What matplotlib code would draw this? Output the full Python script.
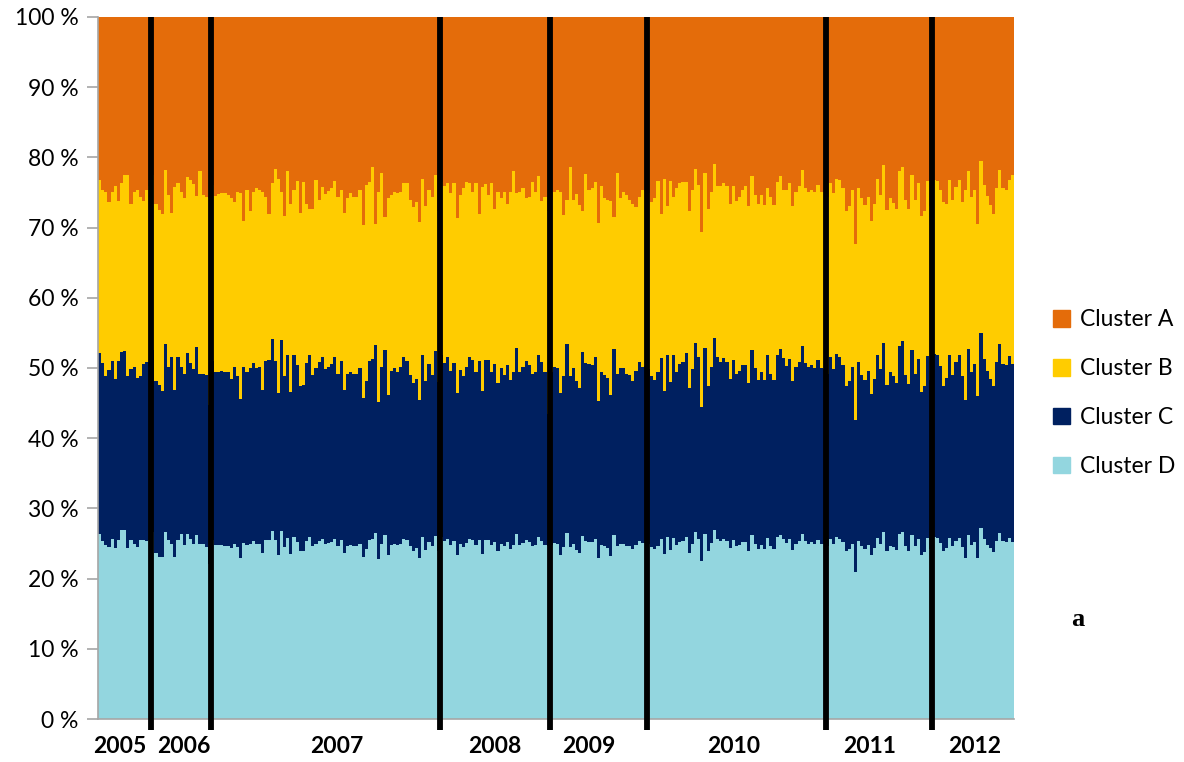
import numpy as np
import matplotlib
matplotlib.use("Agg")
import matplotlib.pyplot as plt
import matplotlib.patches as mpatches

plt.rcParams['font.family'] = ['Lato', 'DejaVu Sans']

years = ['2005', '2006', '2007', '2008', '2009', '2010', '2011', '2012']
bars_per_year = [17, 19, 73, 35, 31, 57, 34, 26]

# upper edge (cumulative %) of Cluster D, C and B for each bar
top_d = [
    26.4, 25.3, 24.8, 24.5, 25.7, 24.3, 25.5, 26.9, 26.9, 24.3, 25.5, 25.0, 24.5, 25.5, 25.5, 25.3, 25.5,
    26.7, 23.6, 23.1, 23.1, 26.7, 25.5, 25.0, 23.1, 25.5, 26.4, 24.8, 26.4, 25.7, 25.0, 26.2, 25.0, 25.0, 24.5, 22.1,
    25.5, 24.8, 24.8, 24.8, 24.7, 24.7, 24.3, 25.0, 24.5, 23.0, 25.1, 24.8, 25.0, 25.3, 25.0, 25.0, 23.6, 25.5,
    25.5, 26.8, 25.5, 23.4, 26.8, 24.5, 25.8, 23.5, 25.9, 25.2, 23.9, 23.9, 25.3, 25.9, 24.6, 25.0, 25.4, 25.7,
    24.9, 25.1, 25.2, 25.7, 24.6, 25.5, 23.6, 24.6, 24.8, 24.6, 24.6, 25.0, 23.1, 24.2, 25.5, 25.6, 26.5, 22.8,
    25.0, 26.2, 23.3, 24.8, 25.0, 24.8, 25.0, 25.7, 25.5, 24.6, 24.0, 24.3, 23.0, 25.9, 24.1, 25.2, 24.6, 26.1, 23.9,
    25.9, 25.3, 25.7, 24.8, 25.3, 23.4, 24.9, 24.5, 25.1, 25.7, 25.5, 24.8, 25.5, 23.5, 25.5, 25.5, 24.8, 25.2,
    24.0, 25.0, 24.6, 25.2, 24.2, 24.8, 26.3, 24.8, 25.1, 25.5, 25.2, 24.6, 24.8, 25.9, 25.4, 24.8, 24.6,
    24.8, 25.1, 25.0, 23.4, 24.5, 26.5, 24.5, 25.0, 24.1, 23.7, 26.0, 25.3, 25.2, 25.2, 25.7, 22.9, 24.8, 24.6,
    24.4, 23.2, 26.2, 24.6, 25.0, 25.0, 24.6, 24.6, 24.2, 24.8, 25.4, 25.1, 25.1,
    25.0, 24.5, 24.2, 24.7, 25.6, 23.5, 25.9, 24.1, 25.8, 24.8, 25.2, 25.4, 25.9, 23.7, 25.0, 26.6, 25.7, 22.5,
    26.3, 23.9, 25.1, 26.9, 25.7, 25.4, 25.6, 25.4, 24.3, 25.5, 24.6, 24.8, 25.2, 25.2, 24.0, 26.2, 25.0, 24.2,
    24.8, 24.2, 25.8, 24.6, 24.2, 25.9, 26.2, 25.6, 25.1, 25.6, 24.1, 25.0, 25.4, 26.4, 25.3, 25.0, 25.2, 25.0,
    25.5, 25.0, 24.9,
    24.6, 25.7, 25.0, 25.9, 25.7, 25.2, 23.9, 24.2, 25.0, 21.0, 25.4, 24.6, 24.2, 24.8, 23.3, 24.3, 25.8, 25.0,
    26.6, 23.9, 24.7, 24.5, 24.1, 26.4, 26.7, 24.6, 23.9, 26.2, 24.6, 25.6, 23.4, 23.8, 25.8, 24.2,
    25.9, 25.8, 25.1, 23.9, 24.4, 25.8, 24.6, 25.4, 25.8, 24.5, 23.0, 26.2, 24.8, 25.2, 22.9, 27.2, 25.6, 24.8,
    24.3, 23.8, 25.4, 26.5, 25.3, 25.2, 25.8, 25.2,
]

top_c = [
    52.1, 50.7, 48.8, 49.7, 51.0, 48.5, 51.0, 52.3, 52.4, 48.8, 49.9, 50.2, 48.6, 48.8, 50.5, 50.8, 50.9,
    52.6, 48.2, 47.6, 46.7, 53.4, 50.1, 51.5, 46.9, 51.6, 50.1, 49.2, 52.1, 50.7, 49.9, 53.0, 49.2, 49.2, 49.0, 44.7,
    51.0, 49.5, 49.5, 49.6, 49.4, 49.4, 48.5, 50.1, 48.8, 45.6, 50.2, 49.5, 50.0, 50.7, 50.0, 50.1, 46.9, 51.0,
    51.1, 54.1, 51.0, 46.4, 54.0, 48.8, 51.8, 46.6, 51.9, 50.4, 47.5, 47.6, 50.7, 51.9, 49.0, 50.0, 50.9, 51.6,
    49.8, 50.2, 50.5, 51.6, 49.1, 51.0, 46.9, 49.1, 49.5, 49.2, 49.2, 50.0, 45.7, 48.2, 51.0, 51.3, 53.3, 45.1,
    50.1, 52.6, 46.2, 49.6, 50.0, 49.5, 50.1, 51.5, 51.0, 49.0, 47.8, 48.5, 45.4, 51.9, 48.1, 50.5, 49.0, 52.4, 48.0,
    51.9, 50.7, 51.5, 49.6, 50.7, 46.5, 49.7, 48.9, 50.2, 51.6, 51.1, 49.5, 51.0, 46.7, 51.1, 51.1, 49.5, 50.5,
    47.8, 50.0, 49.0, 50.4, 48.3, 49.5, 52.9, 49.5, 50.2, 51.0, 50.4, 49.1, 49.5, 51.9, 50.8, 49.5, 43.5,
    49.5, 50.2, 50.0, 46.4, 48.9, 53.4, 48.8, 50.0, 48.1, 47.1, 52.3, 50.7, 50.5, 50.4, 51.5, 45.3, 49.5, 49.0,
    48.6, 46.1, 52.7, 49.2, 50.0, 50.0, 49.2, 49.0, 48.2, 49.6, 50.8, 50.2, 50.3,
    49.9, 48.8, 48.3, 49.4, 51.4, 46.7, 51.9, 48.0, 51.8, 49.5, 50.5, 50.8, 52.1, 47.2, 49.9, 53.5, 51.5, 44.4,
    52.8, 47.5, 50.2, 54.3, 51.6, 50.9, 51.4, 50.8, 48.4, 51.1, 49.2, 49.6, 50.4, 50.4, 47.8, 52.6, 50.0, 48.3,
    49.5, 48.3, 51.8, 49.2, 48.3, 51.9, 52.7, 51.4, 50.3, 51.3, 48.1, 50.1, 50.9, 53.2, 50.7, 50.1, 50.4, 50.0,
    51.1, 50.0, 49.8,
    49.2, 51.5, 49.9, 52.0, 51.6, 50.4, 47.5, 48.2, 50.1, 42.6, 50.8, 49.0, 48.3, 49.6, 46.3, 48.5, 51.8, 49.9,
    53.6, 47.6, 49.4, 48.8, 47.9, 53.1, 53.8, 49.0, 47.7, 52.6, 49.2, 51.3, 46.6, 47.4, 51.7, 48.3,
    52.0, 51.8, 50.3, 47.5, 48.6, 51.8, 49.0, 50.8, 51.8, 48.8, 45.5, 52.7, 49.5, 50.5, 46.0, 55.0, 51.3, 49.6,
    48.5, 47.4, 50.8, 53.4, 50.6, 50.4, 51.7, 50.5,
]

top_b = [
    76.8, 75.3, 75.1, 73.7, 75.1, 75.9, 73.8, 76.3, 77.5, 77.5, 73.4, 75.0, 75.3, 74.4, 73.8, 75.3, 75.9,
    77.5, 73.4, 72.5, 72.0, 78.2, 74.6, 72.1, 75.8, 76.4, 75.0, 74.2, 77.2, 76.8, 76.2, 74.5, 78.1, 74.6, 74.4, 74.2,
    76.1, 74.5, 74.8, 74.9, 74.9, 74.6, 74.2, 73.7, 75.1, 74.9, 71.0, 75.4, 72.3, 75.0, 75.6, 75.3, 75.1, 74.4,
    72.0, 76.3, 78.3, 76.9, 75.1, 71.6, 78.1, 73.4, 75.3, 76.7, 72.1, 76.5, 73.4, 72.6, 72.7, 76.8, 73.9, 75.8,
    74.8, 75.2, 75.6, 76.7, 74.3, 75.4, 72.1, 74.2, 74.9, 74.4, 74.4, 75.3, 70.4, 76.1, 76.5, 78.7, 70.5, 75.0,
    77.8, 71.5, 74.2, 74.6, 75.1, 74.9, 75.0, 76.4, 76.3, 74.0, 72.9, 73.7, 70.8, 76.9, 73.1, 75.4, 74.4, 77.5, 72.3,
    76.5, 75.9, 76.4, 74.9, 76.3, 71.3, 74.6, 75.6, 76.5, 76.3, 75.1, 76.3, 72.0, 75.8, 76.2, 74.6, 76.3, 72.7,
    75.1, 74.2, 75.1, 73.4, 75.1, 78.1, 74.9, 75.0, 75.6, 74.2, 74.3, 76.5, 75.1, 77.3, 73.8, 74.4, 72.3,
    74.0, 75.1, 75.4, 75.1, 71.8, 73.9, 78.6, 74.0, 74.8, 73.2, 72.4, 77.7, 75.3, 75.6, 76.5, 70.7, 75.9, 74.2,
    74.0, 73.8, 71.5, 77.8, 74.2, 75.1, 74.6, 73.9, 73.4, 73.0, 74.4, 75.4, 75.2,
    74.9, 73.7, 74.2, 76.7, 72.0, 76.9, 73.1, 76.7, 74.3, 75.7, 76.3, 76.5, 76.5, 72.4, 75.3, 78.4, 76.1, 69.4,
    77.8, 72.7, 75.0, 79.1, 75.9, 75.9, 76.4, 75.9, 73.4, 75.9, 73.8, 74.4, 75.4, 75.9, 73.1, 77.3, 74.6, 73.4,
    74.6, 73.2, 75.7, 74.3, 73.2, 76.5, 77.3, 75.4, 75.3, 76.3, 73.1, 75.1, 75.9, 78.2, 75.7, 75.1, 75.4, 75.0,
    76.1, 75.0, 75.0,
    74.4, 76.4, 74.9, 76.9, 76.8, 75.6, 72.3, 73.1, 75.3, 67.7, 75.6, 74.2, 73.2, 74.4, 71.0, 73.4, 76.9, 74.6,
    78.9, 72.5, 74.2, 73.5, 72.7, 78.1, 78.6, 74.0, 72.6, 77.5, 74.0, 76.4, 71.6, 72.3, 76.7, 73.1,
    76.8, 76.7, 75.4, 73.7, 73.4, 76.8, 73.9, 75.8, 76.8, 73.7, 75.3, 78.0, 74.4, 75.4, 70.5, 79.5, 76.1, 74.5,
    73.2, 72.0, 75.6, 78.2, 75.6, 75.3, 76.8, 77.5,
]

labels = ['Cluster A', 'Cluster B', 'Cluster C', 'Cluster D']
colors = ['#E46C0A', '#FFCC00', '#002060', '#93D6DF']

d = np.array(top_d)
c = np.array(top_c)
b = np.array(top_b)
n = len(d)
assert len(c) == n and len(b) == n and sum(bars_per_year) == n

# shares of each cluster per bar
share_d = d
share_c = c - d
share_b = b - c
share_a = 100 - b

x = np.arange(n)

fig = plt.figure(figsize=(11.84, 7.62), dpi=100)
ax = fig.add_axes([98 / 1184, 1 - 719 / 762, 916 / 1184, 702 / 762])

ax.bar(x, share_d, width=1.0, color=colors[3], linewidth=0)
ax.bar(x, share_c, bottom=share_d, width=1.0, color=colors[2], linewidth=0)
ax.bar(x, share_b, bottom=share_d + share_c, width=1.0, color=colors[1], linewidth=0)
ax.bar(x, share_a, bottom=share_d + share_c + share_b, width=1.0, color=colors[0], linewidth=0)

ax.set_xlim(-0.5, n - 0.5)
ax.set_ylim(0, 100)

# year separators
edges = np.cumsum(bars_per_year)
for e in edges[:-1]:
    ax.plot([e - 0.5, e - 0.5], [-1.5, 100], color='black', lw=4.2,
            solid_capstyle='butt', clip_on=False, zorder=5)

# year labels roughly in the middle of each block (nudged like the original)
starts = np.concatenate([[0], edges[:-1]])
nudge = np.array([-1.5, 0.8, 3.5, 0.0, -3.0, -1.0, -3.0, 0.3])
centers = (starts + edges) / 2 - 0.5 + nudge
ax.set_xticks(centers)
ax.set_xticklabels(years, fontsize=16.5, fontweight='bold')
ax.tick_params(axis='x', length=0, pad=12)

ax.set_yticks(np.arange(0, 101, 10))
ax.set_yticklabels([f'{v} %' for v in range(0, 101, 10)], fontsize=16.5)
ax.tick_params(axis='y', length=8, color='#A6A6A6', width=1.2, pad=6)

for side in ['top', 'right']:
    ax.spines[side].set_visible(False)
for side in ['left', 'bottom']:
    ax.spines[side].set_color('#A6A6A6')
    ax.spines[side].set_linewidth(1.2)

handles = [mpatches.Patch(color=colors[i], label=labels[i]) for i in range(4)]
fig.legend(handles=handles, loc='upper left', bbox_to_anchor=(1044 / 1184, 1 - 300 / 762),
           frameon=False, fontsize=16.5, handlelength=0.75, handleheight=0.75,
           handletextpad=0.4, labelspacing=1.22, borderaxespad=0)

fig.text(1078 / 1184, 1 - 620 / 762, 'a', fontsize=19, fontweight='bold',
         family='Liberation Serif', ha='center', va='center')

fig.savefig('out.png', dpi=100)
